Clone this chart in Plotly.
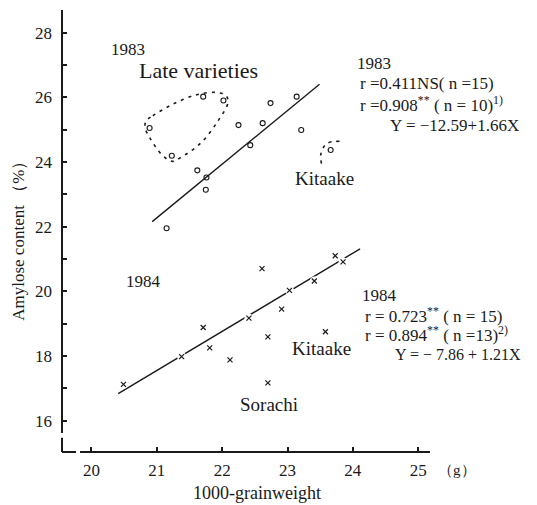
import plotly.graph_objects as go

# ---- data ----
x83 = [20.89, 21.23, 21.71, 22.02, 21.62, 21.76, 21.75, 21.15, 22.25, 22.43, 22.62, 22.74, 23.14, 23.21, 23.66]
y83 = [25.05, 24.19, 26.02, 25.90, 23.74, 23.52, 23.14, 21.95, 25.14, 24.52, 25.20, 25.82, 26.02, 24.99, 24.37]

x84 = [20.49, 21.38, 21.71, 21.81, 22.12, 22.41, 22.61, 22.70, 22.70, 22.91, 23.03, 23.41, 23.58, 23.73, 23.85]
y84 = [17.12, 17.98, 18.88, 18.25, 17.88, 19.17, 20.70, 18.59, 17.17, 19.45, 20.03, 20.32, 18.75, 21.10, 20.91]

# regression lines: Y = a + bX over x-span
reg83 = dict(a=-12.59, b=1.66, x0=20.93, x1=23.49)
reg84 = dict(a=-7.86, b=1.21, x0=20.41, x1=24.11)

# dotted loop around late varieties (1983)
loop_x = [20.84, 20.94, 21.25, 21.61, 21.91, 22.06, 22.09, 21.94, 21.68, 21.35, 21.23, 21.07, 20.89, 20.82, 20.84]
loop_y = [25.28, 25.43, 25.79, 26.08, 26.15, 26.05, 25.84, 25.28, 24.60, 24.12, 24.02, 24.24, 24.76, 25.07, 25.28]
# dotted arc around Kitaake (1983)
arc_x = [23.52, 23.51, 23.60, 23.80]
arc_y = [23.95, 24.24, 24.57, 24.64]

x_ticks = [20, 21, 22, 23, 24, 25]
y_ticks = [16, 18, 20, 22, 24, 26, 28]

FONT = "Liberation Serif"
INK = "#1a1a1a"

fig = go.Figure()

def line_pts(r):
    return [r["x0"], r["x1"]], [r["a"] + r["b"] * r["x0"], r["a"] + r["b"] * r["x1"]]

lx, ly = line_pts(reg83)
fig.add_trace(go.Scatter(x=lx, y=ly, mode="lines", line=dict(color=INK, width=1.4), hoverinfo="skip"))
lx, ly = line_pts(reg84)
fig.add_trace(go.Scatter(x=lx, y=ly, mode="lines", line=dict(color=INK, width=1.4), hoverinfo="skip"))

fig.add_trace(go.Scatter(x=loop_x, y=loop_y, mode="lines",
                         line=dict(color=INK, width=1.6, dash="3px,5px", shape="spline"), hoverinfo="skip"))
fig.add_trace(go.Scatter(x=arc_x, y=arc_y, mode="lines",
                         line=dict(color=INK, width=1.6, dash="3px,5px", shape="spline"), hoverinfo="skip"))

# white halos behind x marks to break the line
fig.add_trace(go.Scatter(x=x84, y=y84, mode="markers",
                         marker=dict(symbol="circle", size=9, color="white", line=dict(width=0)), hoverinfo="skip"))
fig.add_trace(go.Scatter(x=x84, y=y84, mode="markers",
                         marker=dict(symbol="x-thin", size=5, line=dict(color=INK, width=1.2))))
fig.add_trace(go.Scatter(x=x83, y=y83, mode="markers",
                         marker=dict(symbol="circle-open", size=5, color=INK, line=dict(color=INK, width=1.1))))

annots = [
    dict(x=20.56, y=27.47, text="1983", xanchor="center", size=17),
    dict(x=21.64, y=26.82, text="Late varieties", xanchor="center", size=22),
    dict(x=24.03, y=27.06, text="1983", xanchor="left", size=17),
    dict(x=24.08, y=26.43, text="r =0.411NS( n =15)", xanchor="left", size=17),
    dict(x=24.08, y=25.78, text="r =0.908<sup>**</sup> ( n = 10)<sup>1)</sup>", xanchor="left", size=17),
    dict(x=24.54, y=25.12, text="Y = −12.59+1.66X", xanchor="left", size=17),
    dict(x=23.08, y=23.48, text="Kitaake", xanchor="left", size=19),
    dict(x=20.50, y=20.29, text="1984", xanchor="left", size=17),
    dict(x=23.04, y=18.22, text="Kitaake", xanchor="left", size=19),
    dict(x=22.24, y=16.51, text="Sorachi", xanchor="left", size=19),
    dict(x=24.11, y=19.86, text="1984", xanchor="left", size=17),
    dict(x=24.15, y=19.26, text="r = 0.723<sup>**</sup> ( n = 15)", xanchor="left", size=17),
    dict(x=24.15, y=18.68, text="r = 0.894<sup>**</sup> ( n =13)<sup>2)</sup>", xanchor="left", size=17),
    dict(x=24.61, y=18.06, text="Y = − 7.86 + 1.21X", xanchor="left", size=16),
]
for a in annots:
    fig.add_annotation(x=a["x"], y=a["y"], xref="x", yref="y", text=a["text"], showarrow=False,
                       xanchor=a["xanchor"], yanchor="middle",
                       font=dict(family=FONT, size=a["size"], color=INK))

# axis titles and unit
fig.add_annotation(x=-0.118, y=0.486, xref="paper", yref="paper", text="Amylose content （%）",
                   textangle=-90, showarrow=False, xanchor="center", yanchor="middle",
                   font=dict(family=FONT, size=17, color=INK))
fig.add_annotation(x=0.53, y=-0.093, xref="paper", yref="paper", text="1000-grainweight",
                   showarrow=False, xanchor="center", yanchor="middle",
                   font=dict(family=FONT, size=18, color=INK))
fig.add_annotation(x=1.017, y=-0.041, xref="paper", yref="paper", text="（g）",
                   showarrow=False, xanchor="left", yanchor="middle",
                   font=dict(family=FONT, size=15, color=INK))

# broken axis lines
W = 2
shapes = [
    dict(type="line", xref="paper", yref="paper", x0=0, x1=0, y0=0.043, y1=1, line=dict(color=INK, width=W)),
    dict(type="line", xref="paper", yref="paper", x0=0, x1=0, y0=0, y1=0.032, line=dict(color=INK, width=W)),
    dict(type="line", xref="paper", yref="paper", x0=0, x1=0.038, y0=0, y1=0, line=dict(color=INK, width=W)),
    dict(type="line", xref="paper", yref="paper", x0=0.049, x1=1, y0=0, y1=0, line=dict(color=INK, width=W)),
]

# page body has an 8px default margin, so the figure is sized 8px smaller
fig.update_layout(
    width=529, height=497,
    margin=dict(l=54, r=107, t=2, b=53, autoexpand=False),
    paper_bgcolor="white", plot_bgcolor="white",
    showlegend=False,
    shapes=shapes,
    xaxis=dict(range=[19.55, 25.18], tickvals=x_ticks, ticks="inside", ticklen=5, tickwidth=2,
               tickcolor=INK, showgrid=False, zeroline=False, showline=False,
               ticklabelstandoff=6,
               tickfont=dict(family=FONT, size=17, color=INK)),
    yaxis=dict(range=[15.03, 28.7], tickvals=y_ticks, ticks="inside", ticklen=5, tickwidth=2,
               tickcolor=INK, showgrid=False, zeroline=False, showline=False,
               ticklabelstandoff=9,
               tickfont=dict(family=FONT, size=17, color=INK),
               minor=dict(tickvals=[15, 17, 19, 21, 23, 25, 27], ticks="inside", ticklen=5,
                          tickwidth=2, tickcolor=INK, showgrid=False)),
)

fig.write_html("out.html")
